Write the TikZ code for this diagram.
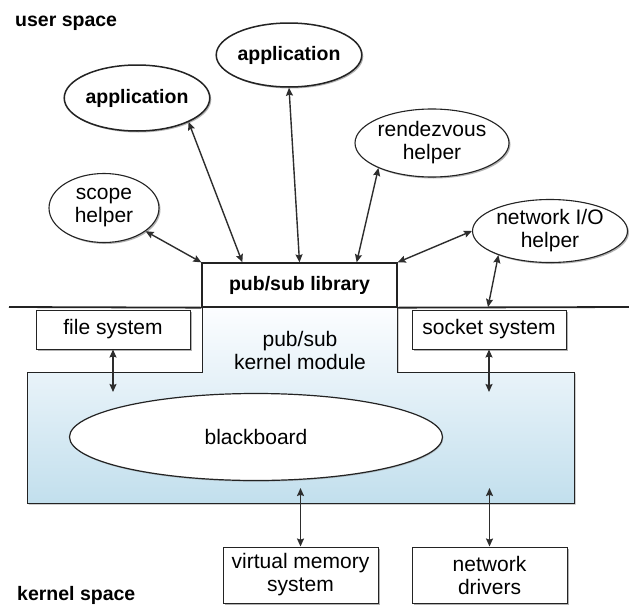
\documentclass[tikz,border=0pt]{standalone}
\usepackage{fontspec}
\setmainfont{Liberation Sans}
\usetikzlibrary{shapes.geometric,arrows.meta,shadows,calc}

\definecolor{inkline}{RGB}{35,35,35}
\definecolor{linkgray}{RGB}{45,45,45}
\definecolor{kernelblue}{RGB}{194,223,237}
\definecolor{kerneltop}{RGB}{252,253,255}

\tikzset{
  softshadow/.style={drop shadow={shadow xshift=1.5pt,shadow yshift=-1.5pt,fill=black!55,opacity=0.55}},
  plaintext/.style={font=\fontsize{21}{23}\selectfont, align=center, inner sep=0pt},
  boldlabel/.style={font=\fontsize{19.5}{22}\selectfont\bfseries, inner sep=0pt},
  appnode/.style={ellipse, draw=inkline, line width=1.5pt, fill=white, inner sep=0pt,
    font=\fontsize{19.5}{22}\selectfont\bfseries, softshadow},
  helpernode/.style={ellipse, draw=inkline, line width=1.1pt, fill=white, inner sep=0pt,
    plaintext, softshadow},
  sysbox/.style={rectangle, draw=inkline, line width=1pt, fill=white, inner sep=0pt,
    plaintext, softshadow},
  link/.style={{Stealth[length=8pt,width=7pt,inset=1.2pt]}-{Stealth[length=8pt,width=7pt,inset=1.2pt]},
    line width=1.4pt, draw=linkgray}
}

\begin{document}
\begin{tikzpicture}[x=1pt,y=-1pt]
\useasboundingbox[fill=white] (0,0) rectangle (629,605);

% kernel module region with the pub/sub column reaching up to the library
\path[draw=inkline, line width=1pt, top color=kerneltop, bottom color=kernelblue, softshadow]
  (27,372) -- (202,372) -- (202,307) -- (397,307) -- (397,372) -- (574,372)
  -- (574,503) -- (27,503) -- cycle;

% pub/sub library in user space
\node[draw=inkline, line width=1.3pt, fill=white, minimum width=195pt, minimum height=44pt,
  boldlabel] (lib) at (299.5,285) {pub/sub library};

% user/kernel boundary
\coordinate (sepL) at (9,307);
\coordinate (sepR) at (629,307);
\draw[inkline, line width=1.8pt] (sepL) -- (lib.south west);
\draw[inkline, line width=1.8pt] (lib.south east) -- (sepR);

% space labels
\node[boldlabel, anchor=base west] (uspace) at (15,26) {user space};
\node[boldlabel, anchor=base west] (kspace) at (17,600) {kernel space};

% user-space processes
\node[appnode, minimum width=133pt, minimum height=64pt] (app1) at (289,55) {application};
\node[appnode, minimum width=133pt, minimum height=66pt] (app2) at (137,98) {application};
\node[helpernode, minimum width=154pt, minimum height=68pt] (rdv) at (432,143) {rendezvous\\helper};
\node[helpernode, minimum width=110pt, minimum height=69pt] (scope) at (104,208) {scope\\helper};
\node[helpernode, minimum width=155pt, minimum height=63pt] (netio) at (550,231) {network I/O\\helper};

% kernel parts
\node[plaintext] (kmod) at (300,350) {pub/sub\\kernel module};
\node[sysbox, minimum width=154pt, minimum height=39pt] (fs) at (113,329.5) {file system};
\node[sysbox, minimum width=154pt, minimum height=39pt] (sock) at (489,329.5) {socket system};
\node[ellipse, draw=inkline, line width=1.2pt, fill=white, inner sep=0pt, plaintext,
  minimum width=373pt, minimum height=87pt,
  drop shadow={shadow xshift=0.8pt,shadow yshift=-1.2pt,fill=black!50,opacity=0.4}]
  (bb) at (256,437) {blackboard};
\node[sysbox, minimum width=155pt, minimum height=56pt] (vm) at (300.5,575) {virtual memory\\system};
\node[sysbox, minimum width=155pt, minimum height=56pt] (nd) at (489.5,575) {network\\drivers};

% free ends inside the kernel module and on the boundary
\coordinate (fsTip) at (113,392);
\coordinate (sockTip) at (489,392);
\coordinate (vmTip) at (300.5,488);
\coordinate (ndTip) at (489.5,488);
\coordinate (netTap) at (488,307);

% connectors
\draw[link] (scope) -- (lib.north west);
\draw[link] (app2.-25) -- ($(lib.north west)+(41,0)$);
\draw[link] (app1.south) -- (lib.north);
\draw[link] (rdv.-155) -- ($(lib.north east)+(-41,0)$);
\draw[link] (netio.west) -- (lib.north east);
\draw[link] (netio.-155) -- (netTap);
\draw[link] (fs.south) -- (fsTip);
\draw[link] (sock.south) -- (sockTip);
\draw[link] (vmTip) -- (vm.north);
\draw[link] (ndTip) -- (nd.north);
\end{tikzpicture}
\end{document}
